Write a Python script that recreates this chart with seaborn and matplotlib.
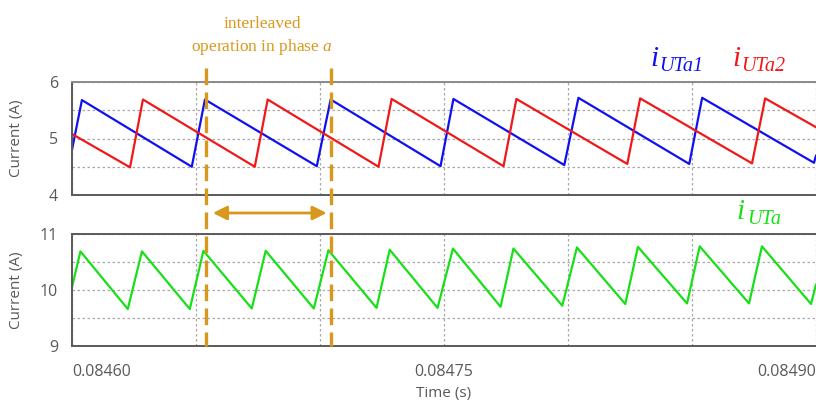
import numpy as np
import pandas as pd
import matplotlib
matplotlib.use("Agg")
import matplotlib.pyplot as plt
import matplotlib.transforms as mtrans
from matplotlib.lines import Line2D
import seaborn as sns

# ---------------- data ----------------
t_blue = [0.0846000, 0.0846040, 0.0846483, 0.0846536, 0.0846987, 0.0847043,
          0.0847486, 0.0847538, 0.0847985, 0.0848042, 0.0848489, 0.0848541,
          0.0848992, 0.0849000]
i_blue = [4.80, 5.68, 4.50, 5.69, 4.51, 5.69,
          4.51, 5.70, 4.53, 5.72, 4.55, 5.72,
          4.57, 4.70]

t_red = [0.0846000, 0.0846234, 0.0846286, 0.0846737, 0.0846789, 0.0847236,
         0.0847289, 0.0847740, 0.0847792, 0.0848239, 0.0848291, 0.0848742,
         0.0848795, 0.0849000]
i_red = [5.08, 4.49, 5.69, 4.50, 5.69, 4.50,
         5.70, 4.51, 5.70, 4.55, 5.71, 4.56,
         5.71, 5.20]

t_green = [0.0846000, 0.0846034, 0.0846225, 0.0846282, 0.0846475, 0.0846530,
           0.0846725, 0.0846781, 0.0846975, 0.0847034, 0.0847228, 0.0847281,
           0.0847474, 0.0847536, 0.0847728, 0.0847780, 0.0847977, 0.0848036,
           0.0848231, 0.0848282, 0.0848480, 0.0848531, 0.0848730, 0.0848782,
           0.0848980, 0.0849000]
i_green = [10.05, 10.69, 9.66, 10.69, 9.66, 10.70,
           9.67, 10.70, 9.67, 10.71, 9.68, 10.72,
           9.68, 10.74, 9.70, 10.74, 9.72, 10.76,
           9.75, 10.77, 9.76, 10.78, 9.76, 10.78,
           9.75, 10.10]

x_range = [0.08460, 0.08490]
x_grid = [0.08460, 0.08465, 0.08470, 0.08475, 0.08480, 0.08485, 0.08490]
x_ticklabels = ["0.08460", "", "", "0.08475", "", "", "0.08490"]
top_yticks = [4, 4.5, 5, 5.5, 6]
top_yticklabels = ["4", "", "5", "", "6"]
bot_yticks = [9, 9.5, 10, 10.5, 11]
bot_yticklabels = ["9", "", "10", "", "11"]
interleave_t = [0.0846540, 0.0847043]
arrow_t = [0.0846568, 0.0847027]

# ---------------- style ----------------
sns.set_theme(style="white")
plt.rcParams["font.family"] = ["Open Sans", "DejaVu Sans"]
plt.rcParams["mathtext.fontset"] = "custom"
plt.rcParams["mathtext.rm"] = "Liberation Serif"
plt.rcParams["mathtext.it"] = "Liberation Serif:italic"

W, H = 816, 404
fig = plt.figure(figsize=(W / 100, H / 100), dpi=100)
fig.patch.set_facecolor("white")

def fx(px):
    return px / W

def fy(py):
    return 1 - py / H

ax_top = fig.add_axes([fx(72), fy(195), 1 - fx(72), fy(82) - fy(195)])
ax_bot = fig.add_axes([fx(72), fy(346), 1 - fx(72), fy(234) - fy(346)])

BLUE = "#1010F0"
RED = "#F01818"
GREEN = "#18E018"
ORANGE = "#D9981C"
GRAY_TXT = "#595959"
SPINE = "#5a5a5a"
GRID = "#a8a8a8"

df_top = pd.concat([
    pd.DataFrame({"t": t_blue, "i": i_blue, "s": "iUTa1"}),
    pd.DataFrame({"t": t_red, "i": i_red, "s": "iUTa2"}),
])
sns.lineplot(data=df_top, x="t", y="i", hue="s", palette={"iUTa1": BLUE, "iUTa2": RED},
             ax=ax_top, legend=False, linewidth=1.6, sort=False, estimator=None)
sns.lineplot(x=t_green, y=i_green, ax=ax_bot, color=GREEN, linewidth=1.6,
             sort=False, estimator=None)

for ax, yt, ytl, ylim in [(ax_top, top_yticks, top_yticklabels, (4, 6)),
                          (ax_bot, bot_yticks, bot_yticklabels, (9, 11))]:
    ax.set_xlim(*x_range)
    ax.set_ylim(*ylim)
    ax.set_xticks(x_grid)
    ax.set_yticks(yt)
    ax.set_yticklabels(ytl)
    ax.grid(True, color=GRID, linestyle=(0, (2, 2)), linewidth=0.9)
    ax.tick_params(axis="both", length=0, labelsize=11.5, colors=GRAY_TXT)
    ax.tick_params(axis="y", pad=10)
    for side in ["top", "bottom", "left"]:
        ax.spines[side].set_visible(True)
        ax.spines[side].set_color(SPINE)
        ax.spines[side].set_linewidth(1.4)
    ax.spines["right"].set_visible(False)
    ax.set_ylabel("Current (A)", fontsize=11, color=GRAY_TXT)
    ax.yaxis.set_label_coords((24 - 72) / (W - 72), 0.5)
    ax.set_facecolor("white")

ax_top.spines["top"].set_color("#8a8a8a")
ax_top.set_xticklabels([""] * len(x_grid))
ax_top.set_xlabel("")

ax_bot.set_xticklabels(x_ticklabels)
ax_bot.tick_params(axis="x", pad=13)
labs = ax_bot.get_xticklabels()
labs[0].set_ha("left")
labs[-1].set_ha("right")
ax_bot.set_xlabel("Time (s)", fontsize=11, color=GRAY_TXT)
ax_bot.xaxis.set_label_coords(0.5, (346 - 393) / (346 - 234))
ax_bot.xaxis.label.set_va("center")

# ---------------- annotations ----------------
blend = mtrans.blended_transform_factory(ax_top.transData, fig.transFigure)
for tx in interleave_t:
    fig.add_artist(Line2D([tx, tx], [fy(68), fy(346)], transform=blend, color=ORANGE,
                          linewidth=2.4, linestyle=(0, (5, 2.2)), zorder=10))

ax_top.annotate("", xy=(arrow_t[1], fy(213)), xytext=(arrow_t[0], fy(213)),
                xycoords=blend, textcoords=blend, annotation_clip=False,
                arrowprops=dict(arrowstyle="<|-|>,head_length=0.7,head_width=0.35",
                                color=ORANGE, linewidth=2.0, shrinkA=0, shrinkB=0))

fig.text(fx(262), fy(24), "interleaved", ha="center", va="center", color=ORANGE,
         fontsize=12.5, family="Liberation Serif")
fig.text(fx(262), fy(47), r"operation in phase $a$", ha="center", va="center",
         color=ORANGE, fontsize=12.5, family="Liberation Serif")

def current_label(x_i, base_i, x_sub, base_sub, sub, color):
    fig.text(fx(x_i), fy(base_i), "i", ha="left", va="baseline", color=color,
             fontsize=21, family="Liberation Serif", style="italic")
    fig.text(fx(x_sub), fy(base_sub), sub, ha="left", va="baseline", color=color,
             fontsize=14.5, family="Liberation Serif", style="italic")

current_label(650, 66, 659, 71, "UTa1", BLUE)
current_label(732, 66, 741, 71, "UTa2", RED)
current_label(736, 219, 747, 224, "UTa", GREEN)

fig.savefig("out.png", dpi=100, facecolor="white")
